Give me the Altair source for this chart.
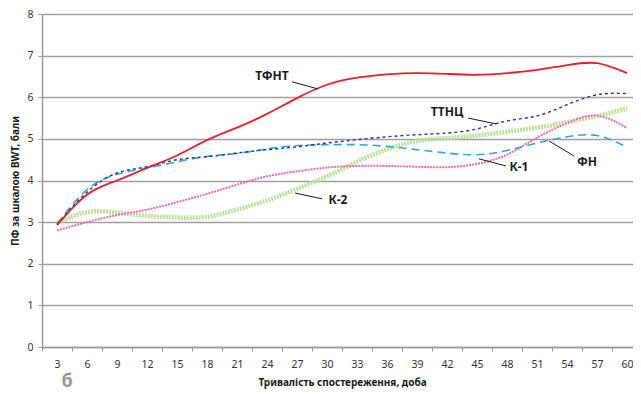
import altair as alt
import pandas as pd

days = [3, 6, 9, 12, 15, 18, 21, 24, 27, 30, 33, 36, 39, 42, 45, 48, 51, 54, 57, 60]
tfnt = [2.93, 3.66, 4.0, 4.3, 4.6, 4.97, 5.27, 5.6, 5.98, 6.3, 6.47, 6.55, 6.58, 6.56, 6.54, 6.58, 6.66, 6.77, 6.82, 6.58]
ttnc = [2.95, 3.72, 4.18, 4.33, 4.5, 4.57, 4.66, 4.74, 4.81, 4.9, 4.98, 5.05, 5.1, 5.14, 5.24, 5.43, 5.55, 5.82, 6.06, 6.09]
fn = [2.95, 3.78, 4.15, 4.3, 4.45, 4.58, 4.65, 4.76, 4.84, 4.86, 4.86, 4.82, 4.74, 4.66, 4.62, 4.72, 4.9, 5.05, 5.08, 4.8]
k1 = [2.8, 3.0, 3.17, 3.3, 3.48, 3.68, 3.9, 4.1, 4.22, 4.31, 4.35, 4.35, 4.33, 4.32, 4.4, 4.62, 5.03, 5.38, 5.56, 5.26]
k2 = [2.98, 3.24, 3.23, 3.15, 3.11, 3.13, 3.3, 3.52, 3.8, 4.1, 4.45, 4.75, 4.95, 5.02, 5.08, 5.17, 5.27, 5.4, 5.55, 5.73]

label_text = ["ТФНТ", "ТТНЦ", "К-1", "ФН", "К-2"]
label_day = [24.5, 42.0, 49.2, 56.0, 31.1]
label_val = [6.51, 5.65, 4.33, 4.45, 3.53]
lead_day1 = [26.5, 44.1, 47.9, 54.7, 29.5]
lead_val1 = [6.37, 5.5, 4.35, 4.59, 3.56]
lead_day2 = [29.1, 46.9, 45.2, 52.2, 26.8]
lead_val2 = [6.2, 5.36, 4.52, 4.95, 3.70]

x_title = "Тривалість спостереження, доба"
y_title = "ПФ за шкалою BWT, бали"
panel_letter = "б"

FONT = "Noto Sans"

xscale = alt.Scale(domain=[1.5, 61.5], nice=False, zero=False)
yscale = alt.Scale(domain=[0, 8], nice=False)

xaxis = alt.Axis(values=days, title=x_title, tickOffset=-15, labelOffset=15,
                 grid=False, domainColor="#9a9a9a", domainWidth=1.5,
                 tickColor="#9a9a9a", tickSize=4, labelPadding=8,
                 labelFontSize=10.5, labelColor="#333333", labelFont=FONT,
                 titleFont=FONT, titleFontSize=10, titleFontWeight="bold",
                 titleColor="#1a1a1a", titlePadding=8)
yaxis = alt.Axis(values=list(range(0, 9)), title=y_title, grid=True,
                 gridColor="#a0a0a0", gridWidth=1.5, domainColor="#9a9a9a",
                 domainWidth=1.5, tickColor="#9a9a9a", tickSize=4,
                 labelFontSize=10.5, labelColor="#333333", labelFont=FONT,
                 labelPadding=5, titleFont=FONT, titleFontSize=10,
                 titleFontWeight="bold", titleColor="#1a1a1a", titlePadding=6)


def X(field):
    return alt.X(field, type="quantitative", scale=xscale, axis=xaxis)


def Y(field):
    return alt.Y(field, type="quantitative", scale=yscale, axis=yaxis)


def series_df(vals):
    return pd.DataFrame({"day": days, "val": vals})


def line(vals, **mk):
    return alt.Chart(series_df(vals)).mark_line(interpolate="natural", **mk).encode(
        x=X("day"), y=Y("val"))


l_k2 = line(k2, color="#bfdf9c", strokeWidth=4.5, strokeDash=[2, 1])
l_k1 = line(k1, color="#ef6aab", strokeWidth=2, strokeDash=[2, 1])
l_fn = line(fn, color="#2aa9e0", strokeWidth=1.6, strokeDash=[8, 5])
l_tt = line(ttnc, color="#2e3192", strokeWidth=1.4, strokeDash=[3, 3])
l_tf = line(tfnt, color="#e3202a", strokeWidth=1.8)

lab_df = pd.DataFrame({"t": label_text, "day": label_day, "val": label_val,
                       "d1": lead_day1, "v1": lead_val1, "d2": lead_day2, "v2": lead_val2})

leaders = alt.Chart(lab_df).mark_rule(color="#1a1a1a", strokeWidth=1).encode(
    x=X("d1"), y=Y("v1"), x2="d2:Q", y2="v2:Q")

labels = alt.Chart(lab_df).mark_text(font=FONT, fontSize=12, fontWeight="bold",
                                     color="#1a1a1a").encode(
    x=X("day"), y=Y("val"), text="t:N")

letter = alt.Chart(pd.DataFrame({"t": [panel_letter]})).mark_text(
    font=FONT, fontSize=18, fontWeight="bold", color="#9a9a9a").encode(
    x=alt.value(25), y=alt.value(368), text="t:N")

chart = alt.layer(l_k2, l_k1, l_fn, l_tt, l_tf, leaders, labels, letter).properties(
    width=600, height=333,
    autosize=alt.AutoSizeParams(type="none"),
    padding={"left": 34, "top": 6, "right": -9, "bottom": 44},
).configure_view(stroke=None).configure(background="white")

chart.save("out.html", embed_options={"renderer": "svg", "actions": False})
